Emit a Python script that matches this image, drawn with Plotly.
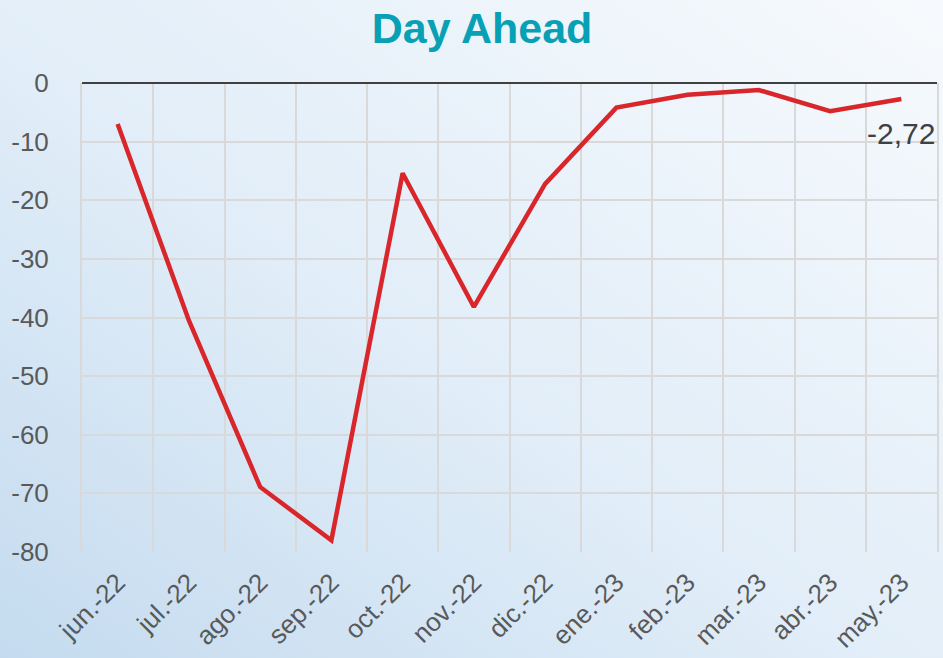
import base64
import plotly.graph_objects as go

months = ["jun.-22", "jul.-22", "ago.-22", "sep.-22", "oct.-22", "nov.-22",
          "dic.-22", "ene.-23", "feb.-23", "mar.-23", "abr.-23", "may.-23"]
day_ahead = [-7.0, -40.5, -68.9, -78.0, -15.4, -38.2,
             -17.2, -4.2, -2.0, -1.2, -4.8, -2.72]
last_label = "-2,72"
y_ticks = [0, -10, -20, -30, -40, -50, -60, -70, -80]
y_ticktext = ["0", "-10", "-20", "-30", "-40", "-50", "-60", "-70", "-80"]

# soft blue gradient behind everything (svg data uri, no network needed)
svg = ('<svg xmlns="http://www.w3.org/2000/svg" width="943" height="658" preserveAspectRatio="none">'
       '<defs><linearGradient id="g" x1="0" y1="1" x2="1" y2="0">'
       '<stop offset="0" stop-color="#c4dbef"/>'
       '<stop offset="0.45" stop-color="#e1edf8"/>'
       '<stop offset="1" stop-color="#f7fafd"/>'
       '</linearGradient></defs>'
       '<rect width="943" height="658" fill="url(#g)"/></svg>')
bg_src = "data:image/svg+xml;base64," + base64.b64encode(svg.encode()).decode()

fig = go.Figure()
fig.add_trace(go.Scatter(x=months, y=day_ahead, mode="lines",
                         line=dict(color="#d9262b", width=4.5),
                         hoverinfo="x+y"))

fig.add_annotation(x=months[-1], y=day_ahead[-1], text=last_label,
                   showarrow=False, yanchor="top", yshift=-16,
                   font=dict(size=30, color="#404040"))

W, H = 943, 658
ml, mr, mt, mb = 82, 6, 83, 106
pw, ph = W - ml - mr, H - mt - mb

fig.update_layout(
    width=W, height=H,
    margin=dict(l=ml, r=mr, t=mt, b=mb),
    paper_bgcolor="#e6f0f9",
    plot_bgcolor="rgba(0,0,0,0)",
    font=dict(family="Liberation Sans, Arial, sans-serif", color="#595959", size=26),
    showlegend=False,
    title=dict(text="<b>Day Ahead</b>", x=482 / W, xanchor="center", y=1 - 28 / H, yanchor="middle",
               font=dict(size=43, color="#08a0b4")),
    images=[dict(source=bg_src, xref="paper", yref="paper",
                 x=-ml / pw, y=1 + mt / ph, sizex=W / pw, sizey=H / ph,
                 xanchor="left", yanchor="top", sizing="stretch", layer="below")],
)

fig.update_xaxes(type="category", tickson="boundaries", showgrid=True,
                 gridcolor="#d9d9d9", gridwidth=2, tickangle=-45, ticks="",
                 showline=False, range=[-0.5, 11.5], tickfont=dict(size=26),
                 automargin=False, ticklabelstandoff=9)
fig.update_yaxes(range=[-80, 0], tickvals=y_ticks, ticktext=y_ticktext,
                 showgrid=True, gridcolor="#d9d9d9", gridwidth=2,
                 zeroline=True, zerolinecolor="#404040", zerolinewidth=2,
                 showline=True, mirror=True, linecolor="#d9d9d9", linewidth=2,
                 ticks="", automargin=False, ticklabelstandoff=26)

# page body has an 8px default margin; drop it so the chart fills the window
fig.write_html("out.html", config={"displayModeBar": False},
               post_script="document.body.style.margin='0';")
